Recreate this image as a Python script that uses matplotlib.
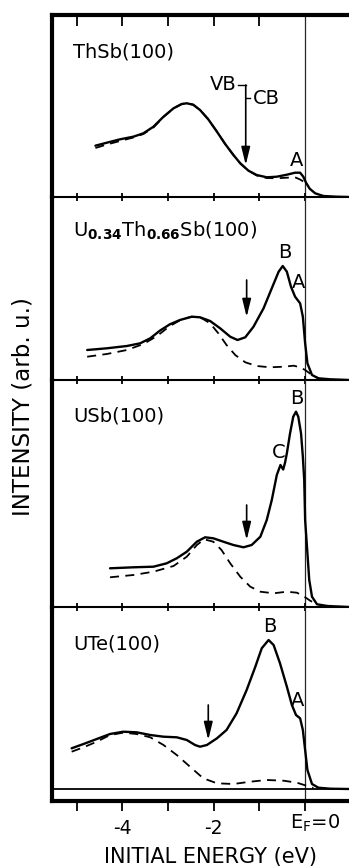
import numpy as np
import matplotlib
matplotlib.use('Agg')
import matplotlib.pyplot as plt

plt.rcParams['font.family'] = ['DejaVu Sans']
plt.rcParams['mathtext.fontset'] = 'dejavusans'

# panel titles
titles = ['ThSb(100)',
          r'U$_{\mathbf{0.34}}$Th$_{\mathbf{0.66}}$Sb(100)',
          'USb(100)',
          'UTe(100)']

# ThSb(100)
thsb_e = [-4.59, -4.34, -4.05, -3.76, -3.54, -3.32, -3.10, -2.88, -2.70, -2.59, -2.45, -2.30,
          -2.12, -1.93, -1.75, -1.57, -1.42, -1.24, -1.06, -0.84, -0.62, -0.40, -0.22, -0.11,
          -0.04, 0.02, 0.10, 0.22, 0.40, 0.69, 0.96]
thsb_i = [51.3, 54.3, 57.7, 60.3, 63.7, 70.3, 80.3, 88.7, 93.0, 93.7, 92.3, 87.0,
          77.7, 65.3, 53.0, 42.0, 33.7, 26.3, 22.0, 19.7, 20.3, 22.3, 24.3, 24.3,
          20.3, 14.3, 8.3, 3.7, 1.0, 0.3, 0.0]
thsb_de = [-4.59, -4.34, -4.05, -3.76, -3.54, -3.32, -3.10, -2.88, -2.70, -2.59, -2.45, -2.30,
           -2.12, -1.93, -1.75, -1.57, -1.42, -1.24, -1.06, -0.84, -0.62, -0.40, -0.22, -0.11,
           -0.04, 0.02]
thsb_di = [49.0, 52.5, 56.0, 59.5, 63.0, 69.5, 80.0, 88.7, 93.0, 93.7, 92.3, 87.0,
           77.7, 65.3, 53.0, 42.0, 33.7, 26.3, 21.5, 19.0, 18.7, 19.3, 19.7, 17.5,
           15.5, 14.3]

# U0.34Th0.66Sb(100)
uth_e = [-4.77, -4.34, -3.90, -3.61, -3.39, -3.18, -2.96, -2.74, -2.48, -2.30, -2.08, -1.86,
         -1.64, -1.48, -1.31, -1.13, -0.91, -0.73, -0.58, -0.49, -0.40, -0.31, -0.22, -0.11,
         -0.05, 0.0, 0.05, 0.15, 0.29, 0.55, 0.96]
uth_i = [30.0, 31.7, 34.0, 36.7, 41.7, 49.3, 55.7, 60.0, 63.3, 62.7, 59.0, 51.7,
         43.3, 40.0, 42.7, 53.3, 71.7, 91.7, 108.3, 114.0, 108.3, 93.3, 83.3, 76.7,
         63.3, 36.7, 16.7, 5.0, 1.7, 0.7, 0.0]
uth_de = [-4.77, -4.34, -3.90, -3.54, -3.24, -2.96, -2.70, -2.48, -2.26, -2.08, -1.90, -1.72,
          -1.53, -1.31, -1.06, -0.77, -0.47, -0.25, -0.11, 0.0, 0.15, 0.29]
uth_di = [23.3, 26.0, 30.0, 36.0, 44.0, 54.0, 60.7, 63.3, 61.7, 56.7, 46.7, 35.0,
          25.0, 17.7, 14.0, 12.7, 13.3, 14.3, 12.7, 10.0, 5.0, 1.7]

# USb(100)
usb_e = [-4.27, -3.76, -3.32, -3.03, -2.81, -2.59, -2.37, -2.19, -2.01, -1.79, -1.57, -1.35,
         -1.17, -0.98, -0.84, -0.73, -0.62, -0.54, -0.48, -0.44, -0.40, -0.33, -0.26, -0.20,
         -0.15, -0.09, -0.05, -0.02, 0.0, 0.05, 0.09, 0.15, 0.26, 0.49, 0.96]
usb_i = [38.7, 39.7, 40.3, 43.7, 48.7, 55.3, 65.3, 69.7, 68.7, 65.3, 62.0, 59.7,
         62.0, 70.3, 87.0, 107.0, 132.0, 142.0, 137.5, 144.3, 153.7, 173.7, 190.3, 195.3,
         190.3, 173.7, 150.3, 127.0, 87.0, 53.7, 27.0, 10.3, 2.7, 1.0, 0.0]
usb_de = [-4.27, -3.76, -3.32, -2.88, -2.59, -2.37, -2.21, -2.01, -1.83, -1.64, -1.42, -1.20,
          -0.98, -0.69, -0.40, -0.18, -0.04, 0.11, 0.26]
usb_di = [29.7, 32.0, 35.3, 41.0, 50.3, 62.0, 67.7, 65.3, 57.0, 43.7, 30.3, 20.3,
          15.3, 13.7, 15.3, 14.3, 11.0, 6.3, 2.7]

# UTe(100)
ute_e = [-5.11, -4.85, -4.56, -4.27, -3.98, -3.69, -3.39, -3.10, -2.81, -2.59, -2.41, -2.30,
         -2.15, -1.93, -1.72, -1.50, -1.28, -1.09, -0.95, -0.80, -0.69, -0.55, -0.40, -0.29,
         -0.20, -0.11, -0.05, 0.0, 0.05, 0.15, 0.29, 0.55, 0.96]
ute_i = [40.7, 45.0, 50.0, 55.0, 57.3, 56.7, 54.0, 52.3, 51.7, 49.0, 44.0, 42.3,
         44.0, 50.7, 59.0, 75.7, 99.0, 122.3, 140.7, 149.0, 144.0, 125.7, 102.3, 84.0,
         74.0, 70.7, 59.0, 39.0, 19.0, 5.0, 1.3, 0.3, 0.0]
ute_de = [-5.11, -4.85, -4.56, -4.27, -3.98, -3.69, -3.39, -3.10, -2.81, -2.52, -2.23, -1.93,
          -1.57, -1.20, -0.84, -0.47, -0.18, 0.0, 0.18]
ute_di = [37.3, 41.7, 47.3, 54.0, 56.3, 55.0, 51.7, 44.0, 34.0, 22.3, 10.7, 5.7,
          5.0, 7.3, 9.0, 8.3, 6.3, 3.7, 1.0]

solid = [(thsb_e, thsb_i), (uth_e, uth_i), (usb_e, usb_i), (ute_e, ute_i)]
dashed = [(thsb_de, thsb_di), (uth_de, uth_di), (usb_de, usb_di), (ute_de, ute_di)]

# peak labels (energy, intensity, text) and arrows (energy, top, tip)
peaks = [[(-0.18, 37, 'A')],
         [(-0.44, 128, 'B'), (-0.15, 98, 'A')],
         [(-0.18, 209, 'B'), (-0.57, 155, 'C')],
         [(-0.78, 162, 'B'), (-0.16, 89, 'A')]]
arrows = [(-1.30, 112, 32), (-1.28, 100, 63), (-1.28, 102, 67), (-2.12, 84, 49)]
title_y = [145, 149.5, 191, 144.5]
ylims = [(0, 182), (0, 183), (0, 227), (-12, 182)]
ticks = [-5, -4, -3, -2, -1, 0]

W, H = 349, 867
fig = plt.figure(figsize=(W / 100, H / 100), dpi=100)
edges = [15, 197, 380, 607, 801]
x0 = 52 / W
axes = []
for k in range(4):
    b = 1 - edges[k + 1] / H
    h = (edges[k + 1] - edges[k]) / H
    axes.append(fig.add_axes([x0, b, 1 - x0, h]))

for k, ax in enumerate(axes):
    ax.patch.set_visible(False)
    ax.set_xlim(-5.54, 0.96)
    ax.set_ylim(*ylims[k])
    ax.spines['right'].set_visible(False)
    ax.spines['left'].set_linewidth(3)
    if k == 0:
        ax.spines['top'].set_linewidth(3)
    else:
        ax.spines['top'].set_visible(False)
    ax.spines['bottom'].set_linewidth(3 if k == 3 else 1.5)
    ax.set_yticks([])
    ax.set_xticks(ticks)
    if k < 3:
        ax.tick_params(axis='x', direction='inout', length=6, width=1.3,
                       labelbottom=False, top=False)
    ax.axvline(0, color='0.15', lw=0.9, zorder=1)

    e, i = solid[k]
    ax.plot(e, i, color='k', lw=1.7, solid_capstyle='round', zorder=3)
    e, i = dashed[k]
    ax.plot(e, i, color='k', lw=1.3, dashes=(5, 3.5), zorder=2)

    ax.text(-5.08, title_y[k], titles[k], fontsize=14, ha='left', va='center')
    for pe, pi, lab in peaks[k]:
        ax.text(pe, pi, lab, fontsize=14, ha='center', va='center')
    xa, top, tip = arrows[k]
    ax.annotate('', xy=(xa, tip), xytext=(xa, top),
                arrowprops=dict(arrowstyle='-|>,head_length=0.9,head_width=0.22',
                                lw=1.2, color='k', mutation_scale=12, shrinkA=0, shrinkB=0))

# inward ticks along the top border
sec = axes[0].secondary_xaxis('top')
sec.set_xticks(ticks[:-1])
sec.tick_params(direction='in', length=8, width=1.3, labeltop=False)
sec.spines['top'].set_visible(False)

# VB / CB bracket in ThSb panel
a0 = axes[0]
a0.plot([-1.46, -1.30], [112, 112], color='k', lw=1.0)
a0.plot([-1.30, -1.20], [98.7, 98.7], color='k', lw=1.0)
a0.text(-1.49, 112, 'VB', fontsize=14, ha='right', va='center')
a0.text(-1.15, 98.7, 'CB', fontsize=14, ha='left', va='center')

# bottom panel
a3 = axes[3]
a3.axhline(0, color='k', lw=1.3)
a3.tick_params(axis='x', direction='out', length=7, width=1.3, pad=6, labelsize=13.5)
a3.set_xticklabels(['', '-4', '', '-2', '', ''])
a3.text(-0.33, -0.058, r'E$_\mathregular{F}$=0', fontsize=14, ha='left', va='top',
        transform=a3.get_xaxis_transform())

fig.text(23 / W, 1 - 407 / H, 'INTENSITY (arb. u.)', rotation=90, fontsize=16.5,
         ha='center', va='center')
fig.text(211 / W, 1 - 857.5 / H, 'INITIAL ENERGY (eV)', fontsize=15,
         ha='center', va='center')

fig.savefig('out.png', dpi=100)
